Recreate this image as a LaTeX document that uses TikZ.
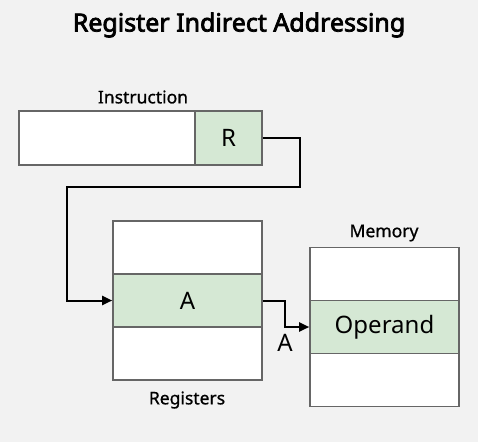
\documentclass[tikz,border=0pt]{standalone}
\usepackage{fontspec}
\setmainfont{Noto Sans}
\newfontfamily\headfont{Noto Sans}[FakeBold=3]
\newfontfamily\capfont{Noto Sans}[FakeBold=0.8]
\usepackage{xcolor}
\usepackage{tikz}
\usetikzlibrary{arrows.meta, positioning}

\definecolor{bgcol}{HTML}{F2F2F2}
\definecolor{cellgreen}{HTML}{D5E8D4}
\definecolor{cellline}{HTML}{666666}

\tikzset{
  cell/.style={draw=cellline, line width=1.6pt, fill=white, inner sep=0pt, minimum height=53pt},
  hotcell/.style={cell, fill=cellgreen},
  wire/.style={line width=2pt, -{Triangle[length=10pt,width=9pt]}},
  caption/.style={font=\capfont\fontsize{17.5}{19}\selectfont},
  bigtext/.style={font=\fontsize{24}{26}\selectfont}
}

\begin{document}
\begin{tikzpicture}[x=1pt, y=-1pt]
\fill[bgcol] (0,0) rectangle (478,442);
\node[font=\headfont\fontsize{25}{28}\selectfont] (title) at (239,25) {Register Indirect Addressing};

% instruction word
\node[cell, minimum width=176pt, minimum height=54pt] (instr) at (107,138) {};
\node[hotcell, bigtext, minimum width=67pt, minimum height=54pt] (regR) at (228.5,138) {R};
\node[caption] (instrlbl) at (143,97) {Instruction};

% register file
\node[cell, minimum width=149pt] (regtop) at (187.5,247.5) {};
\node[hotcell, bigtext, minimum width=149pt] (regA) at (187.5,300.5) {A};
\node[cell, minimum width=149pt] (regbot) at (187.5,353.5) {};
\node[caption] (reglbl) at (187,400) {Registers};

% memory
\node[cell, minimum width=149pt] (memtop) at (384.5,274) {};
\node[hotcell, bigtext, minimum width=149pt] (memop) at (384.5,327) {Operand};
\node[cell, minimum width=149pt] (membot) at (384.5,380) {};
\node[caption] (memlbl) at (384,233) {Memory};

% connectors
\coordinate (bendR) at (300,187);
\coordinate (bendL) at (67,187);
\coordinate (midA) at (285,327);
\draw[wire] (regR.east) -| (bendR) -- (bendL) |- (regA.west);
\draw[wire] (regA.east) -| (midA) -- (memop.west);
\node[bigtext] (addrA) at (285,343) {A};
\end{tikzpicture}
\end{document}
